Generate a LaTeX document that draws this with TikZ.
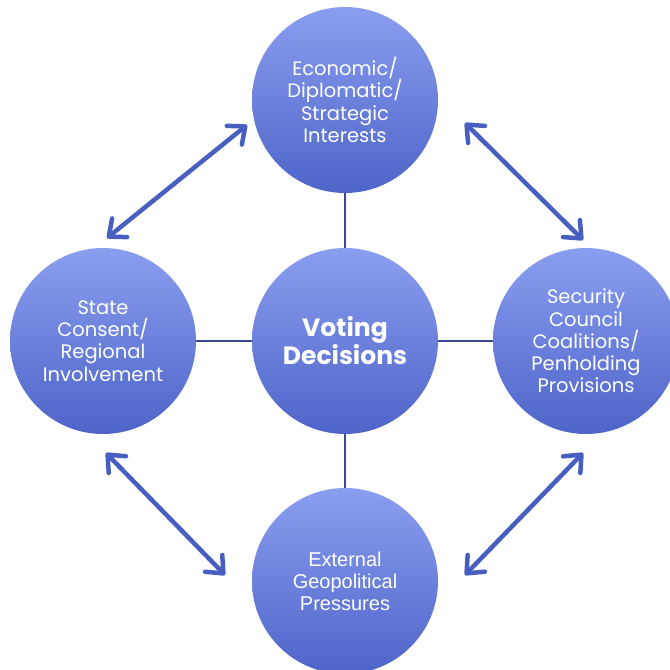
\documentclass[tikz,border=0pt]{standalone}
\usepackage{fontspec}
\setmainfont{Poppins}
\newfontfamily\arialfont{Liberation Sans}
\usetikzlibrary{arrows.meta}
\definecolor{circtop}{RGB}{138,158,240}
\definecolor{circbot}{RGB}{78,100,200}
\definecolor{arrowblue}{RGB}{72,94,192}
\definecolor{linknavy}{RGB}{58,72,150}
\tikzset{
  bubble/.style={circle, minimum size=186pt, inner sep=0pt, top color=circtop, bottom color=circbot, draw=none, text=white, align=center, font=\fontsize{19.5}{22.3}\selectfont},
  link/.style={draw=linknavy, line width=1.6pt},
  twoway/.style={draw=arrowblue, line width=4.5pt, {Straight Barb[length=14pt,width=24pt,line width=4.5pt,round]}-{Straight Barb[length=14pt,width=24pt,line width=4.5pt,round]}}
}
\begin{document}
\begin{tikzpicture}[x=1pt,y=-1pt]
\useasboundingbox (0,0) rectangle (670,670);
\clip (0,0) rectangle (670,670);
\fill[white] (0,0) rectangle (670,670);
\node[bubble] (top) at (345,100) {Economic/\\Diplomatic/\\Strategic\\Interests};
\node[bubble, font=\bfseries\fontsize{25}{26}\selectfont] (mid) at (345,341) {Voting\\Decisions};
\node[bubble] (left) at (103,341) {State\\Consent/\\Regional\\Involvement};
\node[bubble] (right) at (586,341) {Security\\Council\\Coalitions/\\Penholding\\Provisions};
\node[bubble, font=\arialfont\fontsize{20}{22}\selectfont] (bot) at (345,581) {External\\Geopolitical\\Pressures};
\draw[link] (top) -- (mid);
\draw[link] (left) -- (mid);
\draw[link] (right) -- (mid);
\draw[link] (bot) -- (mid);
\coordinate (tlA) at (247,125);
\coordinate (tlB) at (107,238);
\coordinate (trA) at (465,123);
\coordinate (trB) at (583,240);
\coordinate (blA) at (106,453);
\coordinate (blB) at (225,575);
\coordinate (brA) at (583,453);
\coordinate (brB) at (465,575);
\draw[twoway] (tlA) -- (tlB);
\draw[twoway] (trA) -- (trB);
\draw[twoway] (blA) -- (blB);
\draw[twoway] (brA) -- (brB);
\end{tikzpicture}
\end{document}
